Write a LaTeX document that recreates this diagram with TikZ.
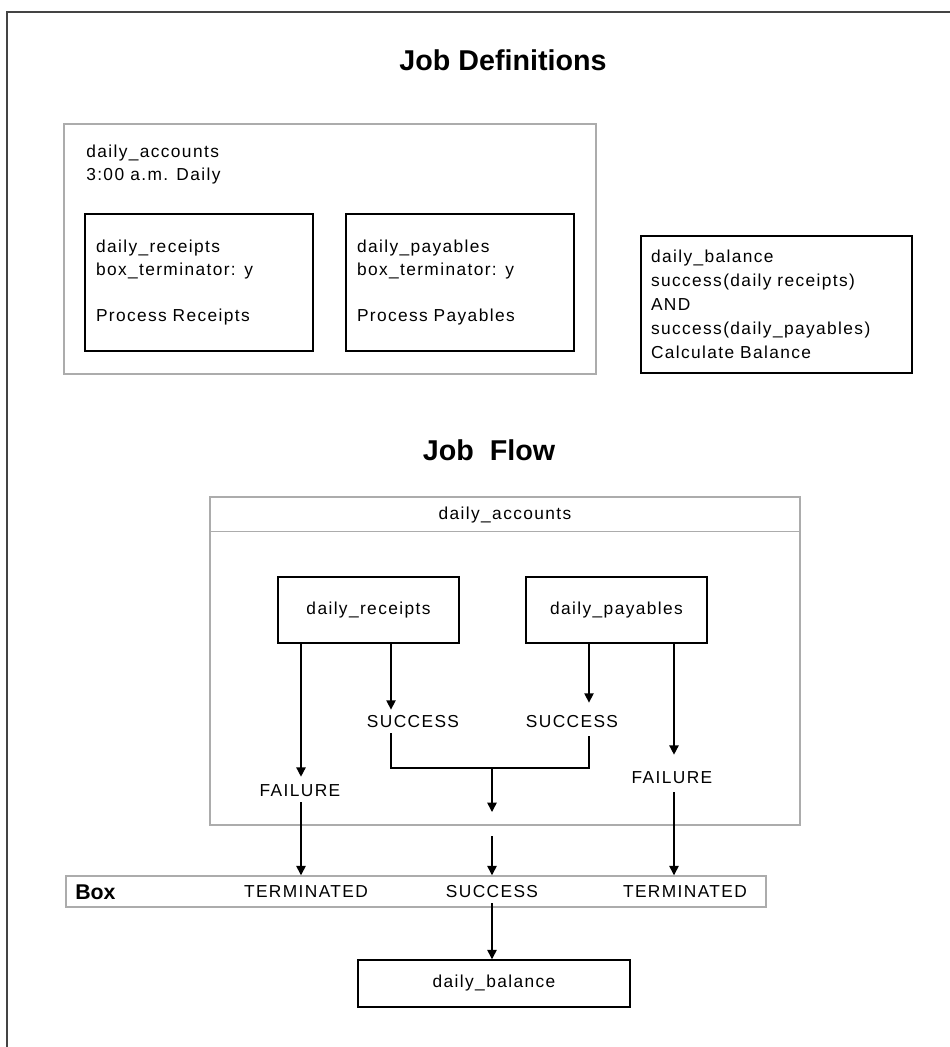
\documentclass[tikz,border=0pt]{standalone}
\usepackage{fontspec}
\setmainfont{Liberation Sans}[LetterSpace=8]
\newfontfamily\headfont{Liberation Sans}
\usetikzlibrary{arrows.meta,calc}

\definecolor{boxgray}{RGB}{172,172,172}
\definecolor{framegray}{RGB}{68,68,68}

\begin{document}
\begin{tikzpicture}[x=0.75pt,y=-0.75pt,
  every node/.style={font=\fontsize{13pt}{17.25pt}\selectfont, inner sep=0pt},
  title/.style={font=\headfont\bfseries\fontsize{21.5pt}{26pt}\selectfont},
  boxlabel/.style={font=\headfont\bfseries\fontsize{16pt}{19pt}\selectfont},
  graybox/.style={draw=boxgray, line width=1.1pt, shape=rectangle},
  grayline/.style={draw=boxgray, line width=1.1pt},
  jobbox/.style={draw=black, line width=1.1pt, shape=rectangle},
  defbox/.style={jobbox, align=left, inner xsep=8.25pt},
  arr/.style={line width=1.1pt, -{Triangle[width=7pt,length=7pt]}},
  conn/.style={line width=1.1pt},
  frameline/.style={draw=framegray, line width=1.9pt}
]
\useasboundingbox (0,0) rectangle (950,1047);

% page frame (top and left edges)
\draw[frameline] (950,12) -- (7,12) -- (7,1047);

% ---------------- job definitions ----------------
\node[title] (deftitle) at (503,60) {Job Definitions};

\node[graybox, minimum width=399pt, minimum height=187.5pt] (defacc) at (330,249) {};
\node[anchor=west, align=left] (acctxt) at (86,164.5) {daily\_accounts\\3:00 a.m. Daily};

\node[defbox, text width=154.5pt, minimum height=102.75pt] (rdef) at (199,282.5)
  {daily\_receipts\\box\_terminator: y\\[17.25pt]Process Receipts};
\node[defbox, text width=154.5pt, minimum height=102.75pt] (pdef) at (460,282.5)
  {daily\_payables\\box\_terminator: y\\[17.25pt]Process Payables};

\node[defbox, inner xsep=7.5pt, text width=188.25pt, minimum height=102.75pt,
      font=\fontsize{13pt}{18pt}\selectfont] (bdef) at (776.5,304.5)
  {daily\_balance\\success(daily receipts)\\AND\\success(daily\_payables)\\Calculate Balance};

% ---------------- job flow ----------------
\node[title] (flowtitle) at (489,450) {Job\ \ Flow};

\node[graybox, minimum width=442.5pt, minimum height=246pt] (flowbox) at (505,661) {};
\draw[grayline] ([yshift=-26.25pt]flowbox.north west) -- ([yshift=-26.25pt]flowbox.north east);
\node (flowname) at (505,515) {daily\_accounts};

\node[jobbox, minimum width=135.75pt, minimum height=49.5pt] (rcpt) at (368.5,610) {daily\_receipts};
\node[jobbox, minimum width=135.75pt, minimum height=49.5pt] (pay) at (616.5,610) {daily\_payables};

\coordinate (rf) at (301,0);
\coordinate (rs) at (391,0);
\coordinate (ps) at (589,0);
\coordinate (pf) at (674,0);

\node (succ1) at (413,722) {SUCCESS};
\node (succ2) at (572,722) {SUCCESS};
\node (fail1) at (300,791) {FAILURE};
\node (fail2) at (672,778) {FAILURE};

\draw[arr, shorten >=6pt]     (rcpt.south -| rf) -- (rf |- fail1.north);
\draw[arr, shorten >=4.5pt]   (rcpt.south -| rs) -- (rs |- succ1.north);
\draw[arr, shorten >=9.75pt]  (pay.south -| ps)  -- (ps |- succ2.north);
\draw[arr, shorten >=12.75pt] (pay.south -| pf)  -- (pf |- fail2.north);

% both successes join into one outcome
\coordinate (join) at (492,768);
\coordinate (midtip) at (492,812);
\draw[conn, shorten <=3.75pt, shorten >=6pt]
  (rs |- succ1.south) -- (rs |- join) -- (ps |- join) -- (ps |- succ2.south);
\draw[arr] (join) -- (midtip);

% ---------------- box status row ----------------
\node[graybox, minimum width=525pt, minimum height=23.25pt] (rowbox) at (416,891.5) {};
\node[boxlabel, anchor=west] (boxlbl) at (75,892) {Box};
\node (term1) at (306,892) {TERMINATED};
\node (rsucc) at (492,892) {SUCCESS};
\node (term2) at (685,892) {TERMINATED};

\coordinate (midstart) at (492,836);
\draw[arr, shorten <=3.75pt] (rf |- fail1.south) -- (rf |- rowbox.north);
\draw[arr] (midstart) -- (midstart |- rowbox.north);
\draw[arr, shorten <=6pt] (pf |- fail2.south) -- (pf |- rowbox.north);

\node[jobbox, minimum width=204pt, minimum height=35.25pt] (bal) at (494,983.5) {daily\_balance};
\draw[arr, shorten <=3.75pt] (rsucc.south) -- (rsucc.south |- bal.north);

\end{tikzpicture}
\end{document}
